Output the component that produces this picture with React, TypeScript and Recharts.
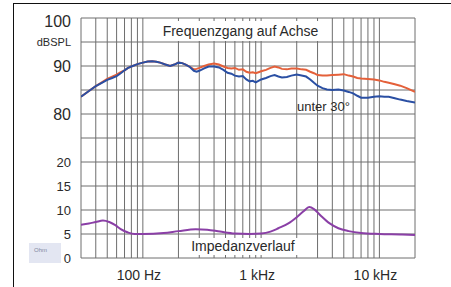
import React from 'react';
import { LineChart, Line, XAxis, YAxis, CartesianGrid } from 'recharts';

// Frequency response (dB SPL) sample frequencies
const splFreqs = [30, 35, 40, 45, 50, 55, 60, 65, 70, 75, 80, 90, 100, 110, 120, 130, 140, 155, 170, 185, 200, 215, 230, 250, 270, 285, 300, 330, 360, 400, 440, 480, 520, 560, 600, 650, 700, 750, 800, 850, 900, 950, 1000, 1100, 1200, 1300, 1400, 1500, 1650, 1800, 2000, 2200, 2400, 2600, 2800, 3000, 3300, 3600, 4000, 4500, 5000, 5500, 6000, 6500, 7000, 8000, 9000, 10000, 11000, 12000, 13500, 15000, 17000, 20000];

// "Frequenzgang auf Achse" (on axis), dB SPL
const onAxisDb = [83.6, 84.8, 85.8, 86.6, 87.3, 87.8, 88.2, 88.7, 89.1, 89.6, 89.9, 90.4, 90.7, 90.95, 91.0, 90.9, 90.7, 90.3, 90.0, 90.3, 90.7, 90.6, 90.3, 89.8, 89.3, 89.4, 89.6, 90.0, 90.3, 90.5, 90.3, 89.9, 89.6, 89.5, 89.6, 89.2, 89.3, 88.8, 88.6, 88.7, 88.5, 88.7, 88.9, 89.2, 89.6, 89.9, 89.7, 89.4, 89.3, 89.5, 89.5, 89.3, 89.2, 88.8, 88.5, 88.1, 88.0, 88.0, 88.1, 88.2, 88.3, 88.0, 87.8, 87.5, 87.4, 87.3, 87.2, 87.0, 86.7, 86.5, 86.2, 85.9, 85.4, 84.6];

// "unter 30°" (30° off axis), dB SPL
const offAxisDb = [83.6, 84.8, 85.8, 86.5, 87.1, 87.5, 87.9, 88.5, 89.1, 89.6, 89.9, 90.4, 90.7, 90.95, 91.0, 90.9, 90.7, 90.3, 90.0, 90.3, 90.7, 90.6, 90.3, 89.8, 89.0, 88.8, 89.0, 89.5, 89.9, 89.9, 89.7, 89.2, 88.6, 88.4, 88.0, 87.8, 87.9, 87.2, 86.8, 86.9, 86.6, 86.9, 87.2, 87.5, 87.9, 88.1, 87.8, 87.6, 87.7, 88.0, 88.2, 88.0, 87.8, 87.2, 86.5, 85.9, 85.4, 85.1, 85.0, 85.1, 84.9, 84.6, 84.3, 83.8, 83.4, 83.4, 83.6, 83.7, 83.6, 83.6, 83.3, 83.0, 82.7, 82.4];

// "Impedanzverlauf", Ohm
const impFreqs = [30, 35, 40, 46, 52, 58, 65, 75, 85, 100, 150, 200, 280, 350, 450, 600, 800, 1000, 1200, 1400, 1700, 2000, 2300, 2550, 2800, 3200, 3800, 4500, 5500, 7000, 10000, 15000, 20000];
const impOhm = [6.9, 7.2, 7.5, 7.8, 7.5, 6.9, 6.0, 5.3, 5.0, 5.0, 5.2, 5.6, 6.0, 5.9, 5.5, 5.1, 5.0, 5.1, 5.5, 6.2, 7.2, 8.5, 9.8, 10.6, 10.2, 8.8, 7.2, 6.2, 5.6, 5.2, 5.0, 4.9, 4.8];

const xTicks = [30, 40, 50, 60, 70, 80, 90, 100, 200, 300, 400, 500, 600, 700, 800, 900, 1000, 2000, 3000, 4000, 5000, 6000, 7000, 8000, 9000, 10000, 20000];
const xTickLabels: Record<number, string> = { 100: '100 Hz', 1000: '1 kHz', 10000: '10 kHz' };

const yTicks = [0, 5, 10, 15, 20, 25, 30, 35, 40, 45, 50];
const yTickLabels: Record<number, string> = { 0: '0', 5: '5', 10: '10', 15: '15', 20: '20', 25: '', 30: '80', 35: '', 40: '90', 45: 'dBSPL', 50: '100' };

// Broken axis: lower half shows 0..25 Ohm, upper half shows 75..100 dB
const DB_SHIFT = 50;

const onAxisData = splFreqs.map((f, i) => ({ f, v: onAxisDb[i] - DB_SHIFT }));
const offAxisData = splFreqs.map((f, i) => ({ f, v: offAxisDb[i] - DB_SHIFT }));
const impData = impFreqs.map((f, i) => ({ f, v: impOhm[i] }));

const FONT = '"Liberation Sans", Arial, sans-serif';

const XTick = (props: any) => {
  const { x, y, payload } = props;
  const label = xTickLabels[payload.value];
  if (!label) return <g />;
  return (
    <text x={x - 4} y={y} dy={14} textAnchor="middle" fontSize={14} fill="#2a2a2a" fontFamily={FONT}>
      {label}
    </text>
  );
};

const YTick = (props: any) => {
  const { x, y, payload } = props;
  const v = payload.value as number;
  const label = yTickLabels[v];
  if (!label) return <g />;
  let size = 13;
  let dy = 0;
  if (v === 50) { size = 16; dy = 3; }
  else if (v === 40 || v === 30) size = 16;
  else if (v === 45) size = 11;
  return (
    <text x={x - 2} y={y + dy} dy="0.36em" textAnchor="end" fontSize={size} fill="#2a2a2a" fontFamily={FONT}>
      {label}
    </text>
  );
};

export default function App() {
  return (
    <div style={{ position: 'absolute', left: 0, top: 0, width: 451, height: 287, background: '#fff', overflow: 'hidden' }}>
      <LineChart width={451} height={287} margin={{ top: 18, right: 36, bottom: 0, left: 0 }}>
        <CartesianGrid stroke="#6e6e6e" strokeWidth={1} />
        <XAxis
          dataKey="f"
          type="number"
          scale="log"
          domain={[30, 20000]}
          ticks={xTicks}
          interval={0}
          allowDataOverflow
          axisLine={false}
          tickLine={false}
          height={29}
          tick={<XTick />}
        />
        <YAxis
          type="number"
          domain={[0, 50]}
          ticks={yTicks}
          interval={0}
          axisLine={false}
          tickLine={false}
          width={81}
          tick={<YTick />}
        />
        <Line data={impData} dataKey="v" type="monotone" stroke="#8a3fa6" strokeWidth={2} dot={false} isAnimationActive={false} />
        <Line data={onAxisData} dataKey="v" type="linear" stroke="#e4603a" strokeWidth={2} dot={false} isAnimationActive={false} />
        <Line data={offAxisData} dataKey="v" type="linear" stroke="#2a4fa3" strokeWidth={2} dot={false} isAnimationActive={false} />
      </LineChart>

      <div style={{ position: 'absolute', left: 158, top: 21, width: 165, height: 20, background: '#fff', fontFamily: FONT, fontSize: 14, lineHeight: '20px', color: '#2a2a2a', textAlign: 'center' }}>
        Frequenzgang auf Achse
      </div>
      <div style={{ position: 'absolute', left: 297, top: 99, fontFamily: FONT, fontSize: 13, lineHeight: '15px', color: '#2a2a2a', whiteSpace: 'nowrap' }}>
        unter 30°
      </div>
      <div style={{ position: 'absolute', left: 188, top: 238, width: 110, height: 17, background: '#fff', fontFamily: FONT, fontSize: 14, lineHeight: '17px', color: '#2a2a2a', textAlign: 'center' }}>
        Impedanzverlauf
      </div>

      <div style={{ position: 'absolute', left: 29, top: 243, width: 32, height: 20, background: '#e3e6f2' }} />
      <div style={{ position: 'absolute', left: 34, top: 246, fontFamily: FONT, fontSize: 6, lineHeight: '8px', color: '#8088a0' }}>
        Ohm
      </div>

      <div style={{ position: 'absolute', left: 13, top: 3, width: 480, height: 320, borderLeft: '1px solid #111', borderTop: '1px solid #111', pointerEvents: 'none' }} />
    </div>
  );
}
